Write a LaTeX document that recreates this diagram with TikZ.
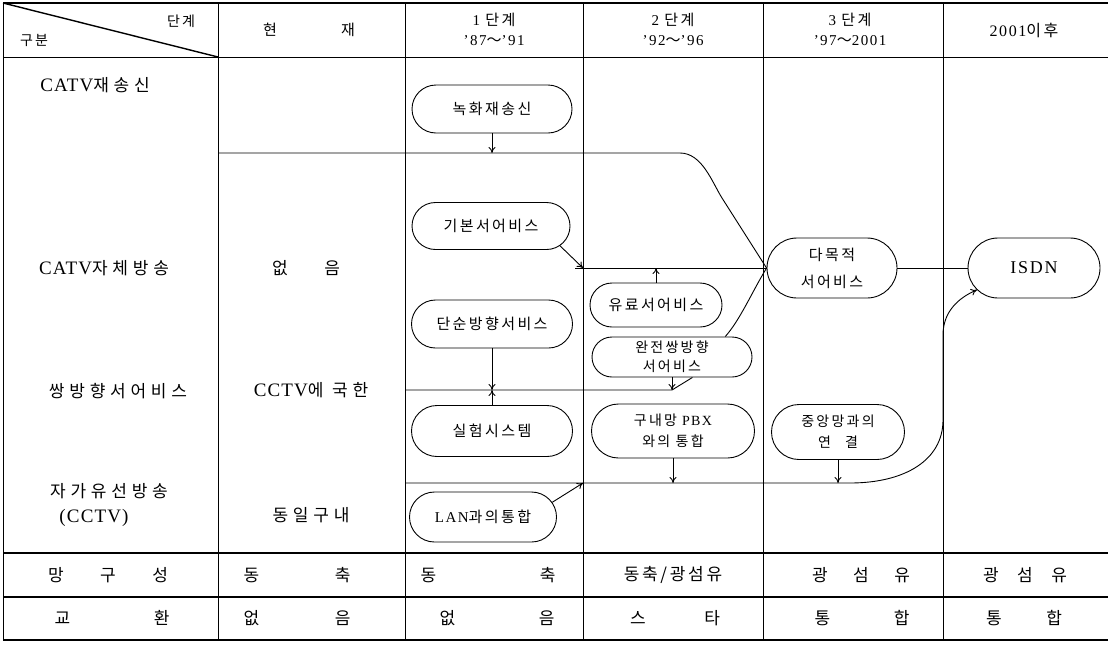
\documentclass[tikz,border=0pt]{standalone}
\usepackage{fontspec}
\setmainfont{Liberation Serif}[LetterSpace=10]
\newfontfamily\kr{Noto Sans CJK KR}[LetterSpace=16]
\newfontfamily\krw{Noto Sans CJK KR}[LetterSpace=28]
\newfontfamily\serw{Liberation Serif}[LetterSpace=6]
\newcommand\K[1]{{\kr #1}}
\newcommand\KW[1]{{\krw #1}}
\newcommand\SW[1]{{\serw\fontsize{19}{20}\selectfont #1}}
\newcommand\spr[2]{\makebox[#1][s]{#2}}
\usetikzlibrary{arrows.meta,shapes.misc,calc}
\begin{document}
\begin{tikzpicture}[x=1pt,y=-1pt,line width=0.9pt,
  box/.style={draw,rounded rectangle,inner sep=0pt,align=center,font=\fontsize{15}{19}\selectfont},
  arr/.style={-{To[length=6pt,width=7pt]}},
  lab/.style={inner sep=0pt,font=\fontsize{17}{20}\selectfont},
  hd/.style={inner sep=0pt,align=center,font=\fontsize{15}{20}\selectfont},
  thick rule/.style={line width=1.4pt}]
\useasboundingbox (0,0) rectangle (1108,646);
% grid
\draw[thick rule] (3,3) -- (1108,3);
\draw (3,57) -- (1108,57);
\draw[thick rule] (3,553) -- (1108,553);
\draw[thick rule] (3,597) -- (1108,597);
\draw[thick rule] (3,640) -- (1108,640);
\foreach \x in {3,218,405,583,763,943} \draw (\x,3) -- (\x,640);
\draw[line width=1.4pt] (3,3) -- (218,57);
% header
\node[hd,font=\fontsize{14}{16}\selectfont] (h0a) at (181,21) {\K{단계}};
\node[hd,font=\fontsize{14}{16}\selectfont] (h0b) at (34,40) {\K{구분}};
\node[hd] (h1) at (309,30) {\spr{92pt}{\K{현}\hfill\K{재}}};
\node[hd] (h2) at (494,29) {1 \K{단계}\\'87\K{～}'91};
\node[hd] (h3) at (673,29) {2 \K{단계}\\'92\K{～}'96};
\node[hd] (h4) at (850,29) {3 \K{단계}\\'97\K{～}2001};
\node[hd,font=\fontsize{16}{20}\selectfont] (h5) at (1024,30) {2001\K{이후}};
% row labels
\node[lab] (r1) at (95,85) {\SW{CATV}\KW{재송신}};
\node[lab] (r2) at (104,268) {\SW{CATV}\KW{자체방송}};
\node[lab] (r3) at (118,391) {\KW{쌍방향서어비스}};
\node[lab] (r4) at (109,491) {\KW{자가유선방송}};
\node[lab] (r5) at (94,518) {\SW{(CCTV)}};
\node[lab] (c1) at (306,268) {\spr{68pt}{\K{없}\hfill\K{음}}};
\node[lab] (c2) at (311,390) {\SW{CCTV}\KW{에 국한}};
\node[lab] (c3) at (311,515) {\KW{동일구내}};
% bottom rows
\node[lab] (m0) at (108,575) {\spr{120pt}{\K{망}\hfill\K{구}\hfill\K{성}}};
\node[lab] (m1) at (297,575) {\spr{107pt}{\K{동}\hfill\K{축}}};
\node[lab] (m2) at (488,575) {\spr{135pt}{\K{동}\hfill\K{축}}};
\node[lab] (m3) at (673,575) {\K{동축/광섬유}};
\node[lab] (m4) at (861,575) {\spr{98pt}{\K{광}\hfill\K{섬}\hfill\K{유}}};
\node[lab] (m5) at (1025,575) {\spr{84pt}{\K{광}\hfill\K{섬}\hfill\K{유}}};
\node[lab] (e0) at (112,618) {\spr{115pt}{\K{교}\hfill\K{환}}};
\node[lab] (e1) at (297,618) {\spr{107pt}{\K{없}\hfill\K{음}}};
\node[lab] (e2) at (497,618) {\spr{115pt}{\K{없}\hfill\K{음}}};
\node[lab] (e3) at (675,618) {\spr{90pt}{\K{스}\hfill\K{타}}};
\node[lab] (e4) at (862,618) {\spr{95pt}{\K{통}\hfill\K{합}}};
\node[lab] (e5) at (1024,618) {\spr{76pt}{\K{통}\hfill\K{합}}};
% boxes
\node[box,minimum width=160pt,minimum height=48pt] (b1) at (492,109) {\K{녹화재송신}};
\node[box,minimum width=158pt,minimum height=47pt] (b2) at (491,226) {\K{기본서어비스}};
\node[box,minimum width=161pt,minimum height=48pt] (b3) at (492,324) {\K{단순방향서비스}};
\node[box,minimum width=161pt,minimum height=51pt] (b4) at (492,431) {\K{실험시스템}};
\node[box,minimum width=147pt,minimum height=50pt] (b5) at (483,517) {LAN\K{과의통합}};
\node[box,minimum width=132pt,minimum height=44pt] (b6) at (656,305) {\K{유료서어비스}};
\node[box,minimum width=160pt,minimum height=40pt,font=\fontsize{14}{19}\selectfont] (b7) at (672,357) {\K{완전쌍방향}\\\K{서어비스}};
\node[box,minimum width=163pt,minimum height=54pt,font=\fontsize{14}{21}\selectfont] (b8) at (673,431) {\K{구내망} PBX\\\K{와의 통합}};
\node[box,minimum width=133pt,minimum height=55pt,font=\fontsize{14}{21}\selectfont] (b9) at (838,432) {\K{중앙망과의}\\\K{연\quad 결}};
\node[box,minimum width=130pt,minimum height=60pt,font=\fontsize{15}{27}\selectfont] (b10) at (832,268) {\K{다목적}\\\K{서어비스}};
\node[box,minimum width=132pt,minimum height=60pt,font=\fontsize{18}{20}\selectfont] (b11) at (1034,268) {ISDN};
% junction points
\coordinate (A1) at (218,153);
\coordinate (A2) at (575,268);
\coordinate (A3) at (405,390);
\coordinate (A4) at (405,483);
\coordinate (J3) at (583,268);
\coordinate (J4) at (672,390);
\coordinate (J5) at (583,483);
\coordinate (J1) at (b10.west);
% connectors
\draw (A1) -- (680,153) .. controls (702,153) and (712,182) .. (722,198) -- (J1);
\draw[arr] (b1.south) -- (b1.south |- A1);
\draw (A2) -- (J1);
\draw[arr] (b2.-16) -- (J3);
\draw[arr] (b6.north) -- (b6.north |- J3);
\draw (b7.21) .. controls (740,320) and (752,292) .. (J1);
\draw (A3) -- (J4) -- (b7.-45);
\draw[arr] (b7.south) -- (J4);
\draw[arr] (b3.south) -- (b3.south |- J4);
\draw[arr] (b4.north) -- (b4.north |- J4);
\draw[arr] (A4) -- (850,483) .. controls (905,483) and (943,460) .. (943,420) -- (943,335) .. controls (943,312) and (958,298) .. (b11.-159);
\draw[arr] (b8.south) -- (b8.south |- A4);
\draw[arr] (b9.south) -- (b9.south |- A4);
\draw[arr] (b5.12) -- (J5);
\draw (b10.east) -- (b11.west);
\end{tikzpicture}
\end{document}
